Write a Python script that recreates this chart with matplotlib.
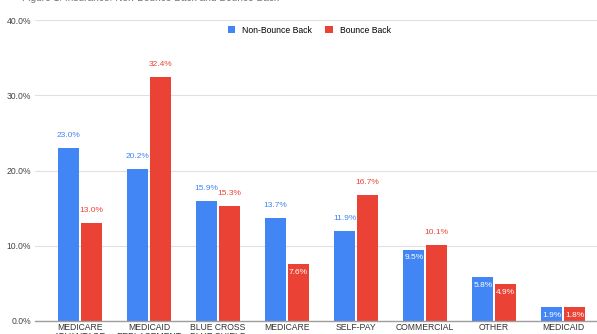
import matplotlib.pyplot as plt
import numpy as np

categories = ['MEDICARE\nADVANTAGE', 'MEDICAID\nREPLACEMENT', 'BLUE CROSS\nBLUE SHIELD', 'MEDICARE',
              'SELF-PAY', 'COMMERCIAL', 'OTHER', 'MEDICAID']
non_bounce = [23.0, 20.2, 15.9, 13.7, 11.9, 9.5, 5.8, 1.9]
bounce = [13.0, 32.4, 15.3, 7.6, 16.7, 10.1, 4.9, 1.8]
series_names = ['Non-Bounce Back', 'Bounce Back']
yticks = [0, 10, 20, 30, 40]

BLUE = '#4285F4'
RED = '#EA4335'

plt.rcParams['font.family'] = ['Liberation Sans', 'DejaVu Sans']

fig = plt.figure(figsize=(5.97, 3.34), dpi=100)
ax = fig.add_axes([35 / 597, 13 / 334, 562 / 597, 301 / 334])

x = np.arange(len(categories))
w = 0.30
off = 0.165
b1 = ax.bar(x - off, non_bounce, w, color=BLUE, label=series_names[0], zorder=3)
b2 = ax.bar(x + off, bounce, w, color=RED, label=series_names[1], zorder=3)


def label_bars(bars, values, color):
    for bar, v in zip(bars, values):
        cx = bar.get_x() + bar.get_width() / 2
        if v < 10:
            ax.annotate(f'{v:.1f}%', (cx, v), xytext=(0, -6), textcoords='offset points',
                        ha='center', va='center', fontsize=6, color='white', zorder=4)
        else:
            ax.annotate(f'{v:.1f}%', (cx, v), xytext=(0, 9), textcoords='offset points',
                        ha='center', va='center', fontsize=6, color=color, zorder=4)


label_bars(b1, non_bounce, BLUE)
label_bars(b2, bounce, RED)

ax.set_xlim(-0.65, 7.49)
ax.set_ylim(0, 40)
ax.set_yticks(yticks)
ax.set_yticklabels([f'{t:.1f}%' for t in yticks], fontsize=6.2, color='#444444')
ax.set_xticks(x)
ax.set_xticklabels(categories, fontsize=6.2, color='#333333', linespacing=0.95)
ax.tick_params(axis='both', length=0, pad=3)
ax.tick_params(axis='x', pad=1.5)
ax.grid(axis='y', color='#e0e0e0', linewidth=0.8, zorder=0)
for s in ['top', 'right', 'left']:
    ax.spines[s].set_visible(False)
ax.spines['bottom'].set_color('#9e9e9e')
ax.spines['bottom'].set_linewidth(1.0)
ax.spines['bottom'].set_zorder(5)

ax.legend(loc='upper center', bbox_to_anchor=(0.488, 1.0), ncol=2, frameon=False,
          fontsize=6.2, handlelength=0.9, handleheight=0.9, columnspacing=1.5,
          handletextpad=0.8, borderaxespad=0.25)

fig.text(22 / 597, 1 - 1 / 334, 'Figure 1: Insurance: Non-Bounce Back and Bounce Back',
         fontsize=7.3, color='#757575', ha='left', va='baseline')

fig.savefig('out.png', dpi=100)
